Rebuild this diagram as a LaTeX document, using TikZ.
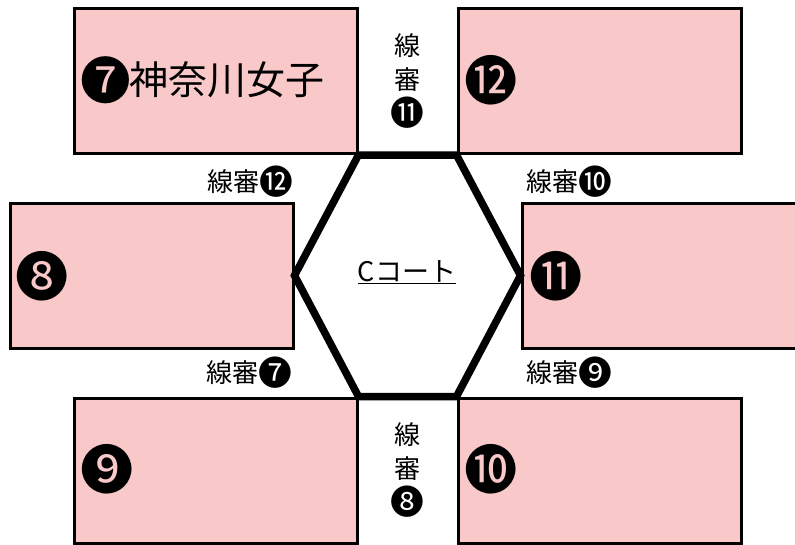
\documentclass[tikz,border=0pt]{standalone}
\usepackage{fontspec}
\setmainfont{Noto Sans CJK JP}
\newfontfamily\circfont[Scale=1.3]{Noto Sans CJK JP}
\newcommand{\cnum}[1]{\raisebox{-0.11em}{\circfont #1}}
\usetikzlibrary{positioning}
\definecolor{courtpink}{RGB}{249,201,201}
\tikzset{team/.style={draw,line width=3pt,fill=courtpink,inner sep=0pt,
    minimum width=283pt,minimum height=145pt}}
\tikzset{num/.style={font=\fontsize{41}{41}\selectfont,inner sep=0pt}}
\tikzset{judge/.style={font=\fontsize{26}{34}\selectfont,align=center,inner sep=0pt}}

\begin{document}
\begin{tikzpicture}[x=1pt,y=-1pt]
  \useasboundingbox (0,0) rectangle (795,544);
  % teams
  \node[team] (tl) at (215.5,81) {};
  \node[team] (tr) at (599.5,81) {};
  \node[team] (ml) at (151.5,275.5) {};
  \node[team] (mr) at (663.5,275.5) {};
  \node[team] (bl) at (215.5,470.5) {};
  \node[team] (br) at (599.5,470.5) {};
  % court
  \draw[line width=7.5pt,line join=miter]
    (tl.south east) -- (tr.south west) -- (mr.west) -- (br.north west)
    -- (bl.north east) -- (ml.east) -- cycle;
  \node[font=\fontsize{27}{27}\selectfont] (court) at (407,272) {\underline{Cコート}};
  % numbers
  \node[num,anchor=west] (n7) at (80,80) {\fontsize{39}{39}\selectfont\cnum{❼}\kern-1.5pt 神奈川女子};
  \node[num,anchor=west] (n12) at (464,80) {\cnum{⓬}};
  \node[num,anchor=west] (n8) at (15,276) {\cnum{❽}};
  \node[num,anchor=west] (n11) at (529,276) {\cnum{⓫}};
  \node[num,anchor=west] (n9) at (80,469) {\cnum{❾}};
  \node[num,anchor=west] (n10) at (464,469) {\cnum{❿}};
  % line judges
  \node[judge] (j12) at (250,182) {線審\cnum{⓬}};
  \node[judge] (j10) at (569,182) {線審\cnum{❿}};
  \node[judge] (j7) at (249,373) {線審\cnum{❼}};
  \node[judge] (j9) at (569,373) {線審\cnum{❾}};
  \node[judge] (j11) at (407,81) {線\\審\\\cnum{⓫}};
  \node[judge] (j8) at (407,470) {線\\審\\\cnum{❽}};
\end{tikzpicture}
\end{document}
